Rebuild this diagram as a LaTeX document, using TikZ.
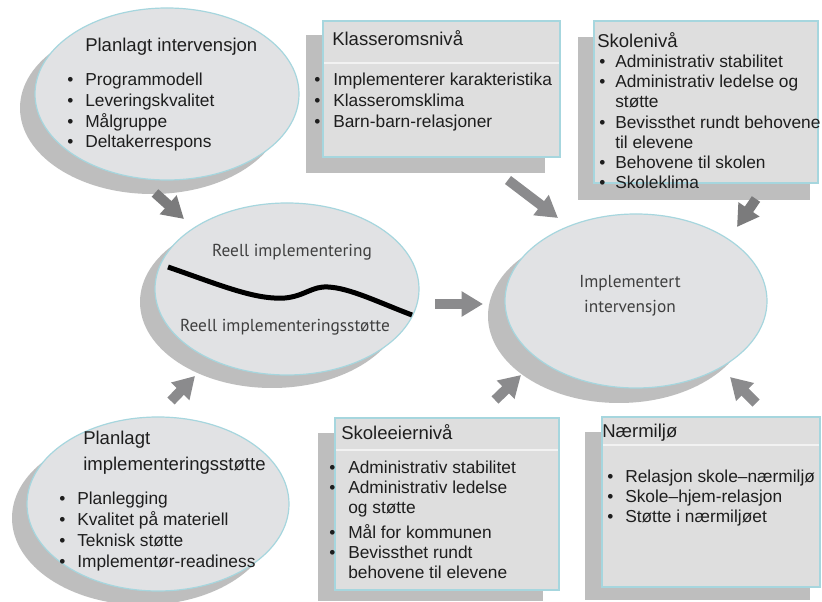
\documentclass[tikz,border=0pt]{standalone}
\usepackage{fontspec}
\setmainfont{Liberation Sans}
\newfontfamily\humfont{PT Sans}
\usetikzlibrary{shapes.geometric,arrows.meta}
\definecolor{efill}{HTML}{E1E2E4}
\definecolor{bfill}{HTML}{DEDEDE}
\definecolor{edge}{HTML}{A6D6DE}
\definecolor{shade}{HTML}{BEBEBE}
\definecolor{arr}{HTML}{8B8B8D}
\definecolor{arrdark}{HTML}{7B7B7C}
\definecolor{txt}{HTML}{1E1E1E}
\newcommand\bu[1]{\makebox[#1][l]{\textbullet}}
\begin{document}
\begin{tikzpicture}[x=0.75pt,y=-0.75pt,
 ell/.style={ellipse, fill=efill, draw=edge, line width=0.9pt, inner sep=0pt},
 ellshadow/.style={ellipse, fill=shade, inner sep=0pt},
 frontbox/.style={rectangle, fill=bfill, draw=edge, line width=0.9pt, inner sep=0pt},
 backbox/.style={rectangle, fill=shade, inner sep=0pt},
 ttl/.style={anchor=west, inner sep=0pt, text=txt, font=\fontsize{13.9}{16}\selectfont},
 lst/.style={anchor=north west, inner sep=0pt, text=txt},
 hum/.style={inner sep=0pt, text=txt!85, font=\humfont\fontsize{13}{18.5}\selectfont},
 garrow/.style={draw=arr, line width=7.5pt, -{Triangle[width=18pt,length=16pt]}, fill=arr},
 sepline/.style={draw=white!60!bfill, line width=1pt},
]
\fill[white] (0,0) rectangle (822,602);
\useasboundingbox (0,0) rectangle (822,602);

% ---- shadows
\node[ellshadow, minimum width=198pt, minimum height=129pt] (e1s) at (152,108) {};
\node[ellshadow, minimum width=198pt, minimum height=129pt] (ers) at (272,302) {};
\node[ellshadow, minimum width=196.5pt, minimum height=130.5pt] (eis) at (619,316) {};
\node[ellshadow, minimum width=196.5pt, minimum height=130.5pt] (eps) at (143,518) {};
\node[backbox, minimum width=179.25pt, minimum height=103.5pt] (bks) at (425.5,104) {};
\node[backbox, minimum width=174pt, minimum height=122.25pt] (bss) at (694,118.5) {};
\node[backbox, minimum width=168.75pt, minimum height=126pt] (bes) at (430.5,517) {};
\node[backbox, minimum width=168.75pt, minimum height=126pt] (bns) at (697.5,516) {};

% ---- front shapes
\node[ell, minimum width=198pt, minimum height=129pt] (e1) at (167,94) {};
\node[ell, minimum width=198pt, minimum height=129pt] (er) at (287,289) {};
\node[ell, minimum width=196.5pt, minimum height=130.5pt] (ei) at (636,301) {};
\node[ell, minimum width=196.5pt, minimum height=130.5pt] (ep) at (158,504) {};
\node[frontbox, minimum width=177.75pt, minimum height=102pt] (bk) at (441.5,89) {};
\node[frontbox, minimum width=168pt, minimum height=121.5pt] (bs) at (706,102) {};
\node[frontbox, minimum width=168pt, minimum height=129pt] (be) at (447,504) {};
\node[frontbox, minimum width=163.5pt, minimum height=127.5pt] (bn) at (711,502) {};

% subtle separators in boxes
\coordinate (sk1) at (324,63); \coordinate (sk2) at (559,63);
\draw[sepline] (sk1) -- (sk2);
\coordinate (se1) at (336,450); \coordinate (se2) at (558,450);
\draw[sepline] (se1) -- (se2);
\coordinate (sn1) at (603,445); \coordinate (sn2) at (819,445);
\draw[sepline] (sn1) -- (sn2);

% ---- titles
\node[ttl] (t1) at (85,47) {Planlagt intervensjon};
\node[ttl] (t2) at (332,38) {Klasseromsnivå};
\node[ttl] (t3) at (597,40) {Skolenivå};
\node[ttl] (t4a) at (83,440) {Planlagt};
\node[ttl] (t4b) at (83,466) {implementeringsstøtte};
\node[ttl] (t5) at (341,432) {Skoleeiernivå};
\node[ttl] (t6) at (602,433) {Nærmiljø};

% ---- lists
\node[lst, font=\fontsize{13}{15.5}\selectfont] (l1) at (67,71) {\begin{tabular}{@{}l@{}l@{}}
\bu{13.5pt}&Programmodell\\
\bu{13.5pt}&Leveringskvalitet\\
\bu{13.5pt}&Målgruppe\\
\bu{13.5pt}&Deltakerrespons
\end{tabular}};

\node[lst, font=\fontsize{13}{15.75}\selectfont] (l2) at (314,71) {\begin{tabular}{@{}l@{}l@{}}
\bu{14.25pt}&Implementerer karakteristika\\
\bu{14.25pt}&Klasseromsklima\\
\bu{14.25pt}&Barn-barn-relasjoner
\end{tabular}};

\node[lst, font=\fontsize{13}{15.15}\selectfont] (l3) at (599,53) {\begin{tabular}{@{}l@{}l@{}}
\bu{12pt}&Administrativ stabilitet\\
\bu{12pt}&Administrativ ledelse og\\
&støtte\\
\bu{12pt}&Bevissthet rundt behovene\\
&til elevene\\
\bu{12pt}&Behovene til skolen\\
\bu{12pt}&Skoleklima
\end{tabular}};

\node[lst, font=\fontsize{13}{15.75}\selectfont] (l4) at (59,490) {\begin{tabular}{@{}l@{}l@{}}
\bu{13.5pt}&Planlegging\\
\bu{13.5pt}&Kvalitet på materiell\\
\bu{13.5pt}&Teknisk støtte\\
\bu{13.5pt}&Implementør-readiness
\end{tabular}};

\node[lst, font=\fontsize{13}{15}\selectfont] (l5) at (329,459) {\begin{tabular}{@{}l@{}l@{}}
\bu{14.25pt}&Administrativ stabilitet\\
\bu{14.25pt}&Administrativ ledelse\\
&og støtte\\[3.75pt]
\bu{14.25pt}&Mål for kommunen\\
\bu{14.25pt}&Bevissthet rundt\\
&behovene til elevene
\end{tabular}};

\node[lst, font=\fontsize{13}{15}\selectfont] (l6) at (607,468) {\begin{tabular}{@{}l@{}l@{}}
\bu{13.5pt}&Relasjon skole–nærmiljø\\
\bu{13.5pt}&Skole–hjem-relasjon\\
\bu{13.5pt}&Støtte i nærmiljøet
\end{tabular}};

% ---- centre ellipses text
\node[hum] (r1) at (292,252) {Reell implementering};
\node[hum] (r2) at (285,327) {Reell implementeringsstøtte};
\node[hum, align=center] (ii) at (630,296) {Implementert\\intervensjon};

% wave line
\coordinate (w0) at (168,267);
\coordinate (w1) at (285,298);
\coordinate (w2) at (328,287);
\coordinate (w3) at (412,315);
\draw[line width=3.75pt, black] (w0) .. controls (220,285) and (255,300) .. (w1)
  .. controls (305,296) and (312,286) .. (w2)
  .. controls (350,288) and (380,303) .. (w3);

% ---- arrows
\coordinate (a1s) at (155,193); \coordinate (a1e) at (184,219);
\coordinate (a2s) at (508,180); \coordinate (a2e) at (558,218);
\coordinate (a3s) at (756,199); \coordinate (a3e) at (737,227);
\coordinate (a4s) at (435,304); \coordinate (a4e) at (483,304);
\coordinate (a5s) at (495,400); \coordinate (a5e) at (521,375);
\coordinate (a6s) at (756,403); \coordinate (a6e) at (730,377);
\coordinate (a7s) at (171,401); \coordinate (a7e) at (195,376);
\draw[garrow, draw=arrdark, fill=arrdark] (a1s) -- (a1e);
\draw[garrow] (a2s) -- (a2e);
\draw[garrow, draw=arrdark, fill=arrdark] (a3s) -- (a3e);
\draw[garrow] (a4s) -- (a4e);
\draw[garrow] (a5s) -- (a5e);
\draw[garrow] (a6s) -- (a6e);
\draw[garrow] (a7s) -- (a7e);
\end{tikzpicture}
\end{document}
